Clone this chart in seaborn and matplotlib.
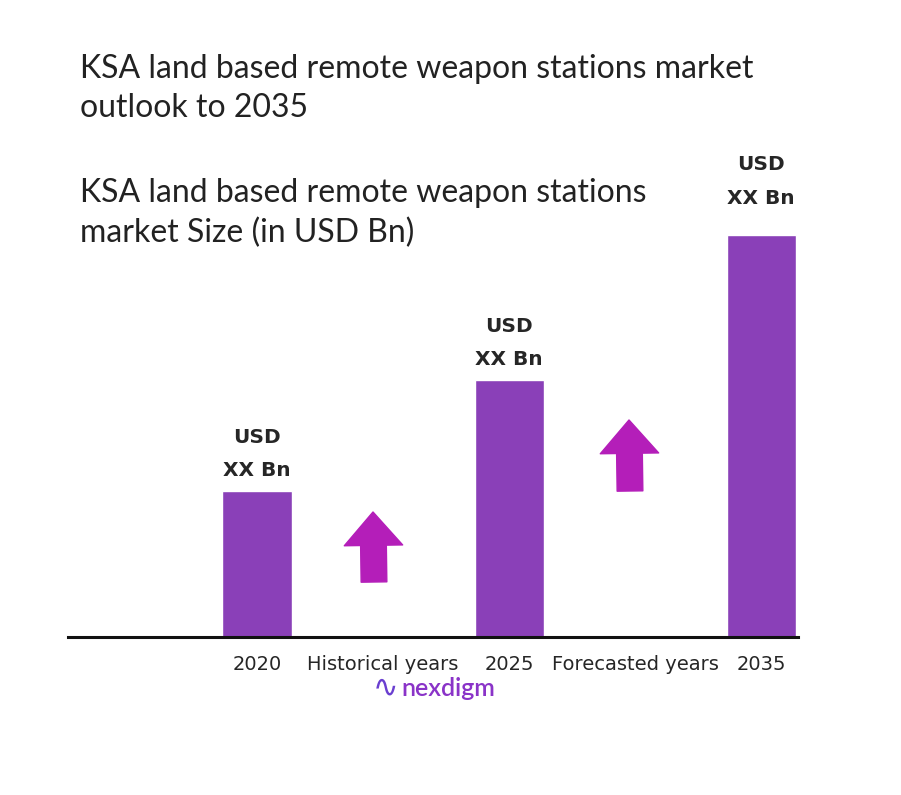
import matplotlib
matplotlib.use("Agg")
import matplotlib.pyplot as plt
import seaborn as sns
import pandas as pd

# chart data
years = ["2020", "2025", "2035"]
market_size = [1.45, 2.56, 4.0]  # relative bar heights (values shown as "XX")
value_labels = ["USD\nXX Bn", "USD\nXX Bn", "USD\nXX Bn"]
slot_order = ["2020", "Historical years", "2025", "Forecasted years", "2035"]

title = "KSA land based remote weapon stations market\noutlook to 2035"
subtitle = "KSA land based remote weapon stations\nmarket Size (in USD Bn)"

bar_color = "#8A40B8"
arrow_color = "#B41EB9"

sns.set_theme(style="white")
plt.rcParams["font.family"] = ["Lato", "DejaVu Sans"]

df = pd.DataFrame({"year": years, "size": market_size})

fig = plt.figure(figsize=(9.01, 7.95), dpi=100)
ax = fig.add_axes([0.0755, 0.1987, 0.81, 0.615])

sns.barplot(data=df, x="year", y="size", order=slot_order, color=bar_color,
            saturation=1, width=0.55, ax=ax)

ax.set_xlim(-1.5, 4.29)
ax.set_ylim(0, 4.87)
ax.set_xlabel("")
ax.set_ylabel("")
ax.set_yticks([])
ax.tick_params(axis="x", length=0, pad=13, labelsize=14)
for lab in ax.get_xticklabels():
    lab.set_fontfamily(["DejaVu Sans"])
for side in ["top", "right", "left"]:
    ax.spines[side].set_visible(False)
ax.spines["bottom"].set_linewidth(2.2)
ax.spines["bottom"].set_color("#111111")

# value labels above bars (the last one sits a little higher in the source)
offsets = [8, 8, 20]
for patch, lbl, off in zip([p for p in ax.patches if p.get_height() > 0], value_labels, offsets):
    ax.annotate(lbl, (patch.get_x() + patch.get_width() / 2, patch.get_height()),
                xytext=(0, off), textcoords="offset points", ha="center", va="bottom",
                fontsize=14.5, fontweight="bold", family=["DejaVu Sans"],
                linespacing=1.95)

# growth arrows
for tip, tail in [((373, 283), (374, 213)), ((629, 375), (630, 304))]:
    ax.annotate("", xy=tip, xytext=tail, xycoords="figure pixels",
                textcoords="figure pixels",
                arrowprops=dict(arrowstyle="simple,head_length=24,head_width=42,tail_width=18.5",
                                color=arrow_color, shrinkA=0, shrinkB=0, mutation_scale=1))

fig.text(0.089, 0.932, title, fontsize=23, va="top", ha="left",
         color="#222222", linespacing=1.39)
fig.text(0.089, 0.776, subtitle, fontsize=23, va="top", ha="left",
         color="#222222", linespacing=1.39)

# brand mark
fig.text(0.428, 0.135, "∿", fontsize=22, color="#6A3FD0", ha="center", va="center",
         family=["DejaVu Sans"])
fig.text(0.445, 0.134, "nexdigm", fontsize=18, color="#8A33C8", ha="left", va="center",
         fontweight="semibold")

fig.savefig("out.png", dpi=100, facecolor="white")
